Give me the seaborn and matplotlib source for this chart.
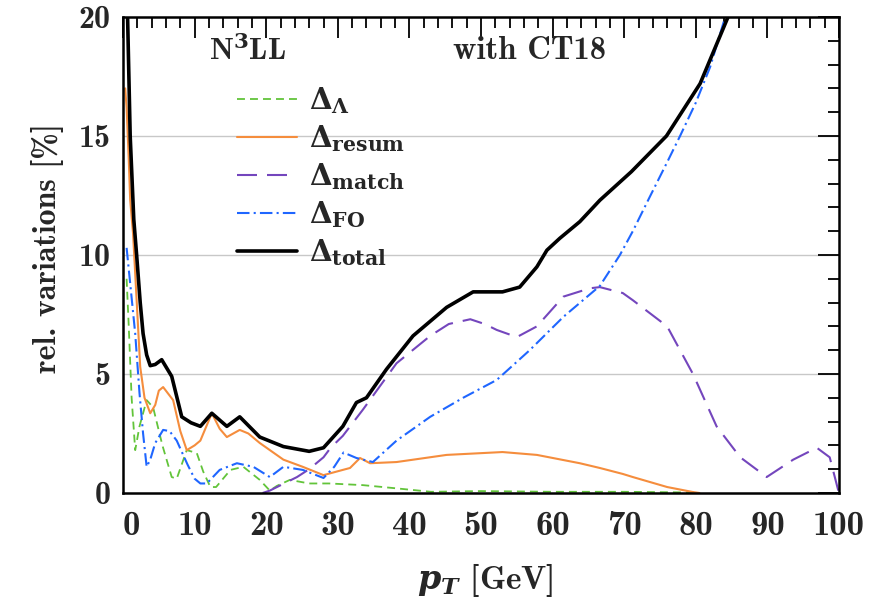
import matplotlib
matplotlib.use("Agg")
import matplotlib.pyplot as plt
import seaborn as sns
import pandas as pd
from matplotlib.ticker import MultipleLocator

# values (pT in GeV, variation in %)
pt_lambda = [0.5, 0.8, 1.2, 1.7, 2.3, 3.3, 4.2, 5.5, 6.8, 7.5, 8.2, 8.9, 10.3, 11.2, 12.2, 13.0,
             15.0, 16.8, 19.1, 20.5, 21.5, 23.3, 26.0, 28.8, 33.5, 38.0, 43.0, 50.0, 60.0, 70.0, 80.0]
d_lambda = [9.0, 7.0, 4.0, 1.8, 2.8, 3.9, 3.6, 2.0, 0.67, 0.6, 1.2, 1.8, 1.68, 0.9, 0.25, 0.25,
            0.97, 1.1, 0.55, 0.1, 0.3, 0.55, 0.4, 0.4, 0.33, 0.2, 0.05, 0.08, 0.05, 0.05, 0.02]

pt_resum = [0.3, 0.5, 0.8, 1.0, 1.4, 1.9, 2.4, 3.0, 3.8, 4.5, 5.0, 5.6, 7.0, 8.0, 8.9, 10.0, 10.8,
            12.4, 13.5, 14.5, 16.3, 17.5, 19.1, 22.4, 25.1, 28.0, 30.7, 31.7, 33.1, 34.5, 38.2,
            45.2, 53.0, 57.8, 63.8, 66.6, 69.8, 71.2, 76.0, 79.6, 80.5]
d_resum = [17.0, 16.2, 14.0, 12.3, 10.9, 8.1, 5.3, 4.0, 3.35, 3.7, 4.3, 4.45, 3.9, 2.6, 1.8, 2.0, 2.2,
           3.35, 2.7, 2.35, 2.65, 2.5, 2.1, 1.4, 1.1, 0.75, 0.97, 1.05, 1.47, 1.25, 1.3,
           1.6, 1.72, 1.6, 1.25, 1.05, 0.8, 0.67, 0.25, 0.04, 0.0]

pt_match = [19.5, 20.5, 22.5, 24.3, 26.0, 28.0, 29.0, 30.7, 33.5, 38.2, 42.9, 45.5, 48.5, 50.5,
            52.2, 55.0, 57.8, 61.5, 65.2, 66.6, 69.8, 71.2, 76.0, 79.6, 82.9, 86.2, 89.9, 93.6,
            96.9, 98.7, 99.9]
d_match = [0.0, 0.1, 0.4, 0.67, 1.0, 1.5, 1.9, 2.4, 3.5, 5.45, 6.6, 7.1, 7.3, 7.1,
           6.85, 6.55, 7.0, 8.25, 8.6, 8.65, 8.4, 8.1, 7.0, 5.0, 2.8, 1.5, 0.67, 1.4,
           1.9, 1.5, 0.1]

pt_fo = [0.5, 1.0, 1.7, 2.3, 2.8, 3.3, 3.8, 4.5, 5.6, 6.5, 7.5, 9.0, 10.0, 10.8, 11.7, 13.5, 15.9,
         18.2, 20.5, 22.4, 25.1, 28.0, 29.5, 30.8, 32.6, 34.9, 38.2, 42.9, 47.5, 52.2, 56.8,
         61.5, 66.6, 69.4, 71.2, 73.5, 76.0, 77.8, 80.0, 82.0, 84.0, 84.3]
d_fo = [10.3, 8.8, 6.7, 4.2, 2.5, 1.1, 1.4, 2.1, 2.65, 2.6, 2.2, 1.2, 0.6, 0.4, 0.4, 0.97, 1.25,
        1.1, 0.67, 1.1, 0.97, 0.63, 1.1, 1.7, 1.47, 1.3, 2.2, 3.2, 4.0, 4.75, 6.0,
        7.4, 8.7, 10.0, 11.0, 12.4, 13.9, 15.0, 16.4, 17.9, 19.9, 20.3]

pt_total = [0.6, 1.0, 1.5, 1.9, 2.4, 2.8, 3.3, 3.8, 4.5, 5.4, 6.8, 8.2, 9.5, 10.8, 12.4, 14.5,
            16.3, 19.1, 22.4, 26.0, 28.0, 28.9, 30.7, 32.6, 34.0, 36.8, 40.5, 45.2, 48.9, 53.0,
            55.4, 57.8, 59.2, 61.0, 63.8, 66.6, 71.0, 75.9, 80.6, 84.5, 85.0]
d_total = [20.5, 15.0, 11.5, 10.0, 8.0, 6.7, 5.8, 5.35, 5.4, 5.6, 4.9, 3.2, 2.95, 2.8, 3.35, 2.8,
           3.2, 2.35, 1.95, 1.75, 1.9, 2.2, 2.8, 3.8, 4.0, 5.2, 6.6, 7.8, 8.45, 8.45,
           8.65, 9.5, 10.2, 10.7, 11.4, 12.3, 13.5, 15.0, 17.2, 20.0, 20.4]

x_ticks = [0, 10, 20, 30, 40, 50, 60, 70, 80, 90, 100]
y_ticks = [0, 5, 10, 15, 20]

series = [
    (r"$\Delta_{\Lambda}$", pt_lambda, d_lambda, "#62c43a", 1.3, (0, (4.4, 2.8))),
    (r"$\Delta_{\rm resum}$", pt_resum, d_resum, "#f58d3d", 1.5, "-"),
    (r"$\Delta_{\rm match}$", pt_match, d_match, "#7446bd", 1.5, (0, (9.6, 4.8))),
    (r"$\Delta_{\rm FO}$", pt_fo, d_fo, "#1f66ff", 1.5, (0, (6, 2, 1, 2))),
    (r"$\Delta_{\rm total}$", pt_total, d_total, "black", 2.6, "-"),
]

sns.set_style("white")
plt.rcParams["font.family"] = ["cmb10", "DejaVu Serif"]
plt.rcParams["mathtext.fontset"] = "custom"
plt.rcParams["mathtext.rm"] = "DejaVu Serif:bold"
plt.rcParams["mathtext.bf"] = "DejaVu Serif:bold"
plt.rcParams["mathtext.it"] = "DejaVu Serif:italic:bold"
plt.rcParams["axes.unicode_minus"] = False

fig = plt.figure(figsize=(8.87, 6.04), dpi=100)
ax = fig.add_axes([0.1387, 0.1838, 0.8072, 0.7881])

for label, xs, ys, color, lw, ls in series:
    df = pd.DataFrame({"pT": xs, "var": ys})
    sns.lineplot(data=df, x="pT", y="var", ax=ax, color=color, linewidth=lw,
                 linestyle=ls, label=label, estimator=None, sort=False)

ax.set_xlim(0, 100)
ax.set_ylim(0, 20)
ax.set_xticks(x_ticks)
ax.set_yticks(y_ticks)
ax.set_xticklabels([str(v) for v in x_ticks])
ax.set_yticklabels([str(v) for v in y_ticks])
ax.xaxis.set_minor_locator(MultipleLocator(2))
ax.yaxis.set_minor_locator(MultipleLocator(1))
ax.tick_params(which="both", direction="in", top=True, right=True, width=1.3, color="black")
ax.tick_params(which="major", length=15)
ax.tick_params(which="minor", length=8)
ax.tick_params(axis="x", which="major", labelsize=25, pad=13)
ax.tick_params(axis="y", which="major", labelsize=23, pad=9)
ax.get_xticklabels()[0].set_horizontalalignment("left")

for yv in [5, 10, 15]:
    ax.axhline(yv, color="#c8c8c8", linewidth=1.0, zorder=0)

for sp in ax.spines.values():
    sp.set_linewidth(1.8)
    sp.set_color("black")

ax.set_xlabel(r"$p_T$ [GeV]", fontsize=24)
ax.set_ylabel("rel. variations [%]", fontsize=23)
ax.xaxis.set_label_coords(0.506, -0.142)
ax.yaxis.set_label_coords(-0.083, 0.515)

ax.text(0.174, 0.93, r"N$^{3}$LL", transform=ax.transAxes, fontsize=22,
        ha="center", va="center")
ax.text(0.568, 0.93, "with CT18", transform=ax.transAxes, fontsize=23.5,
        ha="center", va="center")

leg = ax.legend(loc="upper left", bbox_to_anchor=(0.131, 0.9), frameon=False,
                fontsize=21, handlelength=2.05, handletextpad=0.4, labelspacing=0.25,
                borderpad=0.2)

fig.savefig("out.png", dpi=100)
